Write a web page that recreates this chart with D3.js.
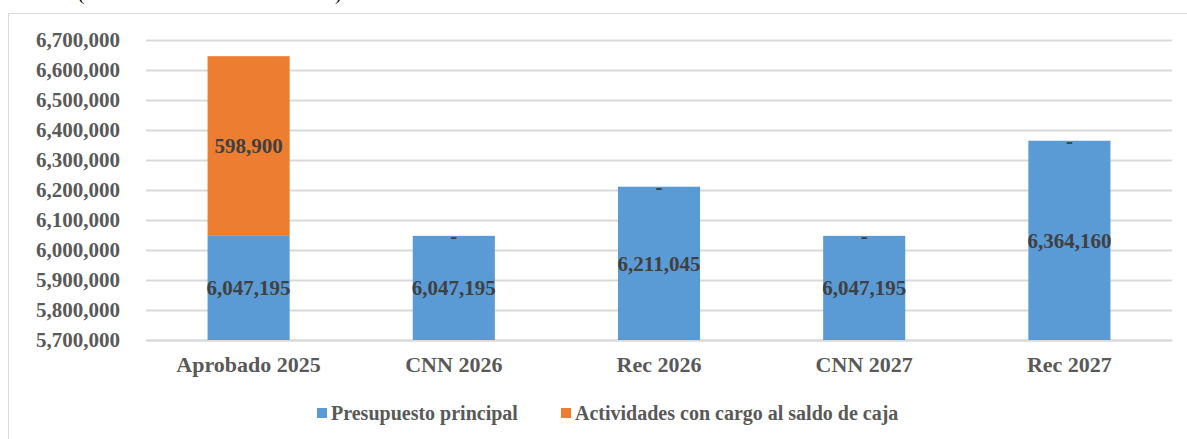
<!DOCTYPE html>
<html>
<head>
<meta charset="utf-8">
<script src="https://d3js.org/d3.v7.min.js"></script>
<style>
	body { margin: 0; padding: 0; background: #fff; }
	svg { display: block; font-family: "Liberation Serif", "Times New Roman", serif; font-weight: bold; }
</style>
</head>
<body>
<div id="chart"></div>
<script>
// data
var categories = ["Aprobado 2025", "CNN 2026", "Rec 2026", "CNN 2027", "Rec 2027"];
var presupuesto = [6047195, 6047195, 6211045, 6047195, 6364160];
var actividades = [598900, 0, 0, 0, 0];
var seriesNames = ["Presupuesto principal", "Actividades con cargo al saldo de caja"];
var seriesColors = ["#5B9BD5", "#ED7D31"];
var yTicks = [5700000, 5800000, 5900000, 6000000, 6100000, 6200000, 6300000, 6400000, 6500000, 6600000, 6700000];

var W = 1187, H = 439;
var mLeft = 146, mRight = 1172, mTop = 40, mBottom = 340;

var svg = d3.select("#chart").append("svg")
	.attr("width", W)
	.attr("height", H);

// heading, mostly cut off above the chart frame
svg.append("text")
	.attr("x", 78)
	.attr("y", 0)
	.attr("font-size", 19)
	.attr("font-weight", "normal")
	.attr("fill", "#000")
	.text("(en dólares de los Estados Unidos)");

// chart frame
svg.append("rect")
	.attr("x", 8.5).attr("y", 13.5)
	.attr("width", W).attr("height", H)
	.attr("fill", "#fff")
	.attr("stroke", "#d9d9d9");

var x = d3.scaleBand()
	.domain(categories)
	.range([mLeft, mRight])
	.paddingInner(0.6)
	.paddingOuter(0.3);

var y = d3.scaleLinear()
	.domain([5700000, 6700000])
	.range([mBottom, mTop]);

var fmt = d3.format(",");

// gridlines + labels
var yAxis = d3.axisLeft(y)
	.tickValues(yTicks)
	.tickFormat(fmt)
	.tickSize(-(mRight - mLeft))
	.tickPadding(26);

var gy = svg.append("g")
	.attr("transform", "translate(" + mLeft + ",0)")
	.call(yAxis);
gy.select(".domain").remove();
gy.selectAll(".tick line").attr("stroke", "#d9d9d9").attr("stroke-width", 2);
gy.selectAll(".tick text")
	.attr("font-family", "Liberation Serif, serif")
	.attr("font-weight", "bold")
	.attr("font-size", 21)
	.attr("fill", "#595959");

var xAxis = d3.axisBottom(x).tickSize(0).tickPadding(16);
var gx = svg.append("g")
	.attr("transform", "translate(0," + mBottom + ")")
	.call(xAxis);
gx.select(".domain").attr("stroke", "#d9d9d9").attr("stroke-width", 2);
gx.selectAll(".tick text")
	.attr("font-family", "Liberation Serif, serif")
	.attr("font-weight", "bold")
	.attr("font-size", 22)
	.attr("fill", "#595959");

// stacked bars
var rows = categories.map(function(c, i) {
	return { cat: c, p: presupuesto[i], a: actividades[i] };
});
var stack = d3.stack().keys(["p", "a"]);
var layers = stack(rows);

var g = svg.append("g");
layers.forEach(function(layer, li) {
	g.selectAll(".bar" + li)
		.data(layer)
		.enter().append("rect")
		.attr("x", function(d) { return x(d.data.cat); })
		.attr("width", x.bandwidth())
		.attr("y", function(d) { return y(d[1]); })
		.attr("height", function(d) { return Math.max(0, y(Math.max(d[0], 5700000)) - y(d[1])); })
		.attr("fill", seriesColors[li]);
});

// data labels
layers.forEach(function(layer, li) {
	g.selectAll(".lab" + li)
		.data(layer)
		.enter().append("text")
		.attr("x", function(d) { return x(d.data.cat) + x.bandwidth() / 2; })
		.attr("y", function(d) {
			var lo = Math.max(d[0], 5700000);
			return (y(lo) + y(d[1])) / 2;
		})
		.attr("dy", "0.35em")
		.attr("text-anchor", "middle")
		.attr("font-size", 21)
		.attr("fill", "#404040")
		.text(function(d) {
			var v = d[1] - d[0];
			return v === 0 ? "-" : fmt(v);
		});
});

// legend
var legend = svg.append("g").attr("transform", "translate(317,413)");
var lx = [0, 244];
seriesNames.forEach(function(n, i) {
	var it = legend.append("g").attr("transform", "translate(" + lx[i] + ",0)");
	it.append("rect")
		.attr("x", 0).attr("y", -5)
		.attr("width", 10).attr("height", 10)
		.attr("fill", seriesColors[i]);
	it.append("text")
		.attr("x", 14).attr("y", 0)
		.attr("dy", "0.35em")
		.attr("font-size", 20)
		.attr("fill", "#595959")
		.text(n);
});
</script>
</body>
</html>
